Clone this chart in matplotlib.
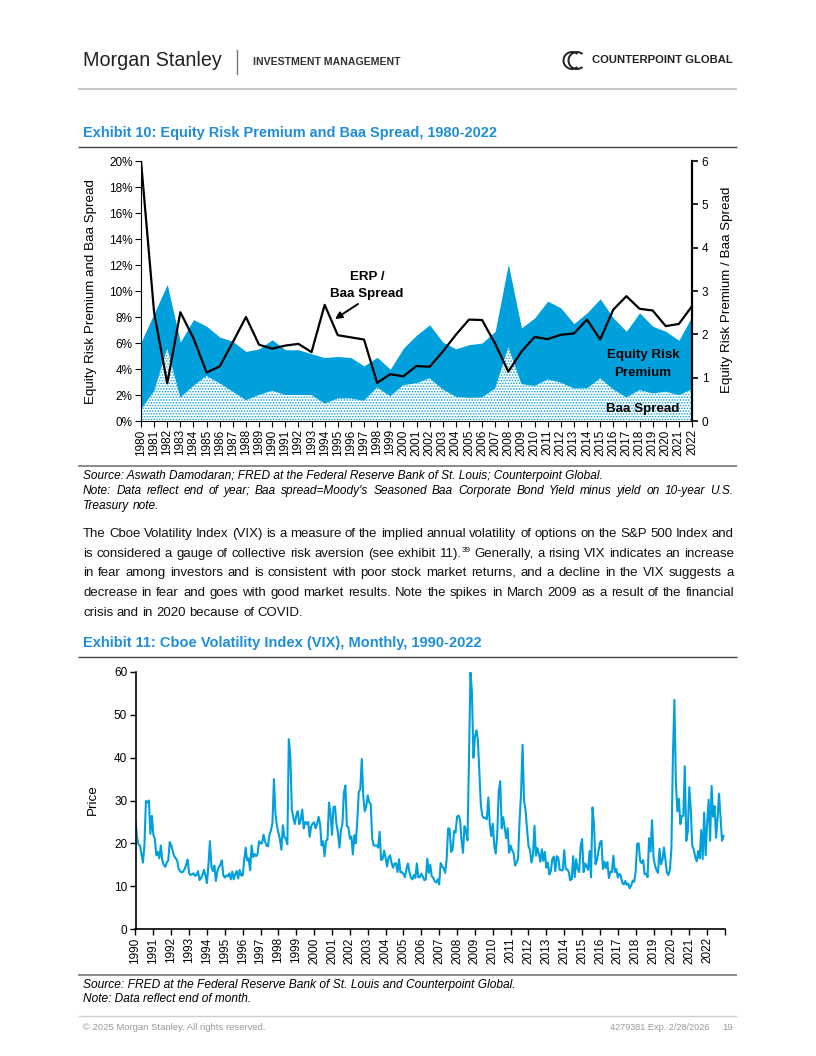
import numpy as np
import matplotlib
matplotlib.use("Agg")
import matplotlib.pyplot as plt
from matplotlib.patches import Arc
from matplotlib.ticker import FuncFormatter

W, H = 816, 1056
BLUE = "#00A0DC"
TITLE_BLUE = "#1E8FD6"
NARROW = ["Liberation Sans Narrow", "Liberation Sans", "DejaVu Sans"]

# ---- Exhibit 10 data ----
years = list(range(1980, 2023))
baa_spread = [0.87, 2.3, 5.56, 1.8, 2.7, 3.46, 2.9, 2.25, 1.6, 2.0,
              2.33, 2.0, 2.0, 2.0, 1.34, 1.73, 1.73, 1.55, 2.58, 1.9,
              2.76, 2.9, 3.28, 2.43, 1.86, 1.78, 1.81, 2.5, 5.68, 2.84,
              2.69, 3.2, 2.95, 2.5, 2.5, 3.28, 2.43, 1.81, 2.38, 2.12,
              2.25, 1.99, 2.43]
erp = [5.2, 5.97, 4.94, 4.27, 5.1, 3.83, 3.56, 3.87, 3.75, 3.55,
       3.92, 3.48, 3.48, 3.17, 3.54, 3.23, 3.15, 2.69, 2.32, 2.08,
       2.84, 3.7, 4.12, 3.64, 3.69, 4.09, 4.19, 4.4, 6.39, 4.32,
       5.24, 6.02, 5.75, 4.99, 5.82, 6.12, 5.5, 5.09, 5.94, 5.17,
       4.65, 4.21, 5.63]
erp_baa_ratio = [6.0, 2.5, 0.87, 2.51, 1.91, 1.12, 1.26, 1.82, 2.4, 1.76,
                 1.67, 1.74, 1.78, 1.59, 2.68, 1.98, 1.93, 1.88, 0.88, 1.08,
                 1.03, 1.27, 1.25, 1.6, 1.99, 2.34, 2.33, 1.78, 1.14, 1.6,
                 1.94, 1.89, 1.99, 2.02, 2.34, 1.88, 2.57, 2.88, 2.59, 2.55,
                 2.19, 2.24, 2.65]

# ---- Exhibit 11 data: VIX, end of month, Jan 1990 - Dec 2022 ----
vix_first_year = 1990
vix = [
    25.4, 21.5, 19.7, 19.5, 17.5, 15.5, 19.5, 29.9, 29.5, 30.0, 22.2, 26.4,  # 1990
    22.0, 21.0, 17.2, 18.0, 16.5, 19.5, 16.0, 15.0, 14.5, 15.5, 16.0, 20.3,  # 1991
    19.5, 18.2, 17.0, 16.5, 16.0, 14.0, 13.5, 13.2, 13.4, 14.0, 15.0, 16.2,  # 1992
    13.0, 12.6, 12.8, 13.0, 12.4, 12.6, 13.5, 11.4, 11.9, 12.6, 13.8, 12.5,  # 1993
    10.7, 15.0, 20.5, 14.5, 13.5, 14.8, 11.2, 13.5, 14.5, 15.0, 16.0, 12.5,  # 1994
    12.0, 12.5, 12.3, 13.0, 11.6, 13.4, 11.6, 12.8, 13.5, 11.8, 13.8, 12.5,  # 1995
    12.5, 16.0, 19.0, 16.0, 16.5, 13.7, 19.5, 16.8, 17.5, 17.0, 17.5, 20.5,  # 1996
    20.0, 20.0, 22.0, 20.5, 19.5, 19.3, 22.0, 23.0, 24.8, 35.0, 27.0, 24.0,  # 1997
    22.5, 21.0, 18.5, 24.2, 21.5, 21.0, 19.8, 44.3, 40.5, 28.0, 26.0, 24.5,  # 1998
    26.5, 27.5, 24.5, 25.5, 27.9, 23.5, 25.0, 24.5, 25.0, 21.5, 24.0, 24.6,  # 1999
    24.9, 23.5, 24.5, 26.2, 24.5, 19.5, 20.5, 17.0, 20.5, 21.0, 29.5, 26.9,  # 2000
    22.0, 28.5, 28.6, 24.5, 22.5, 19.0, 23.0, 24.5, 31.9, 33.5, 24.0, 23.8,  # 2001
    21.1, 21.6, 17.4, 21.9, 20.0, 25.4, 32.0, 32.6, 39.7, 31.1, 27.5, 28.6,  # 2002
    31.2, 29.6, 29.2, 21.2, 19.5, 19.5, 19.5, 19.0, 22.7, 16.1, 16.3, 18.3,  # 2003
    16.6, 14.6, 16.7, 17.2, 15.5, 14.3, 15.3, 15.3, 13.3, 16.3, 13.2, 13.3,  # 2004
    12.8, 12.1, 14.0, 15.3, 13.3, 12.0, 11.6, 12.6, 11.9, 15.3, 12.1, 12.1,  # 2005
    12.9, 12.3, 11.4, 11.6, 16.4, 13.1, 15.0, 12.3, 12.0, 11.1, 10.9, 11.6,  # 2006
    10.4, 15.4, 14.6, 14.2, 13.1, 16.2, 23.5, 23.4, 18.0, 18.5, 22.9, 22.5,  # 2007
    26.2, 26.5, 25.6, 20.8, 17.8, 24.0, 22.9, 20.7, 39.4, 59.9, 55.3, 40.0,  # 2008
    44.8, 46.4, 44.1, 36.5, 28.9, 26.4, 25.9, 26.0, 25.6, 30.7, 24.5, 21.7,  # 2009
    24.6, 19.5, 17.6, 22.1, 32.1, 34.5, 23.5, 26.1, 23.7, 21.2, 23.5, 17.8,  # 2010
    19.5, 18.4, 17.7, 14.8, 15.5, 16.5, 25.3, 31.6, 43.0, 30.0, 27.8, 23.4,  # 2011
    19.4, 18.4, 15.5, 17.2, 24.1, 17.1, 18.9, 17.5, 15.7, 18.6, 15.9, 18.0,  # 2012
    14.3, 15.5, 12.7, 13.5, 16.3, 16.9, 13.5, 17.0, 16.6, 13.8, 13.7, 13.7,  # 2013
    18.4, 14.0, 13.9, 13.4, 11.4, 11.6, 17.0, 12.1, 16.3, 14.0, 13.3, 19.2,  # 2014
    21.0, 13.3, 15.3, 14.6, 13.8, 18.2, 12.1, 28.4, 24.5, 15.1, 16.1, 18.2,  # 2015
    20.2, 20.6, 14.0, 15.7, 14.2, 15.6, 11.9, 13.4, 13.3, 17.1, 13.3, 14.0,  # 2016
    12.0, 12.9, 12.4, 10.8, 10.4, 11.2, 10.3, 10.6, 9.5, 10.2, 11.3, 11.0,   # 2017
    13.5, 19.9, 20.0, 15.9, 15.4, 16.1, 12.8, 12.9, 12.1, 21.2, 18.1, 25.4,  # 2018
    16.6, 14.8, 13.7, 13.1, 18.7, 15.1, 16.1, 19.0, 16.2, 13.2, 12.6, 13.8,  # 2019
    18.8, 40.1, 53.5, 34.2, 27.5, 30.4, 24.5, 26.4, 26.4, 38.0, 20.6, 22.8,  # 2020
    33.1, 28.0, 19.4, 18.6, 16.8, 15.8, 18.2, 16.5, 23.1, 16.3, 27.2, 17.2,  # 2021
    24.8, 30.2, 20.6, 33.4, 26.2, 28.7, 21.3, 25.9, 31.6, 25.9, 20.6, 21.7,  # 2022
]

plt.rcParams["font.family"] = ["Liberation Sans", "DejaVu Sans"]
plt.rcParams["hatch.color"] = BLUE
plt.rcParams["hatch.linewidth"] = 0.7

fig = plt.figure(figsize=(W / 100, H / 100), dpi=100)


def px_axes(left, top, right, bottom):
    return fig.add_axes([left / W, 1 - bottom / H, (right - left) / W, (bottom - top) / H])


# ---------------- Exhibit 10 ----------------
ax1 = px_axes(141, 161, 692, 421)
x = np.array(years)
total = np.add(baa_spread, erp) / 100
ax1.fill_between(x, 0, total, color=BLUE, lw=0)
ax1.fill_between(x, 0, np.array(baa_spread) / 100, facecolor="white",
                 edgecolor=BLUE, hatch="......", lw=0)
ax1.set_xlim(1980, 2022)
ax1.set_ylim(0, 0.20)
ax1.set_yticks(np.arange(0, 0.201, 0.02))
ax1.yaxis.set_major_formatter(FuncFormatter(lambda v, p: f"{v * 100:.0f}%"))
ax1.set_xticks(years)
ax1.set_xticklabels([str(y) for y in years], rotation=90)
ax1.tick_params(labelsize=8.5, length=4, width=0.8, pad=2)
for s in ("top", "right"):
    ax1.spines[s].set_visible(False)
ax1.set_facecolor("none")

ax1r = ax1.twinx()
ax1r.plot(x, erp_baa_ratio, color="black", lw=1.6)
ax1r.set_ylim(0, 6)
ax1r.set_yticks(range(0, 7))
ax1r.tick_params(labelsize=8.5, length=4, width=1.2, pad=3)
for s in ("top", "left", "bottom"):
    ax1r.spines[s].set_visible(False)
ax1r.spines["right"].set_linewidth(1.6)

# ---------------- Exhibit 11 ----------------
ax2 = px_axes(135.5, 672, 725, 929)
t = vix_first_year + np.arange(len(vix)) / 12
ax2.plot(t, vix, color=BLUE, lw=1.5)
ax2.set_xlim(1990, 2023)
ax2.set_ylim(0, 60)
ax2.set_yticks(range(0, 61, 10))
vix_ticks = list(range(1990, 2024))
ax2.set_xticks(vix_ticks)
ax2.set_xticklabels([str(y) if y < 2023 else "" for y in vix_ticks], rotation=90)
ax2.tick_params(labelsize=8.5, length=4, width=1.0, pad=2)
for s in ("top", "right"):
    ax2.spines[s].set_visible(False)
ax2.spines["bottom"].set_linewidth(1.2)
ax2.spines["left"].set_linewidth(1.2)

# ---------------- page layer (pixel coords) ----------------
page = fig.add_axes([0, 0, 1, 1], zorder=10)
page.set_xlim(0, W)
page.set_ylim(H, 0)
page.axis("off")
page.patch.set_alpha(0)
rend = fig.canvas.get_renderer()


def hline(y, color, lw, x0=78, x1=737):
    page.plot([x0, x1], [y, y], color=color, lw=lw, solid_capstyle="butt")


def fit_text(x0, y, s, width, size, **kw):
    txt = page.text(x0, y, s, fontsize=size, va="center", ha="left", **kw)
    w = txt.get_window_extent(rend).width
    txt.set_fontsize(size * width / w)
    return txt


def justify(y, line, size, x0=83, x1=734, last=False, **kw):
    # y is the visual centre of the line; words sit on a common baseline
    base_y = y + 0.36 * size * 100 / 72
    parts = []
    for word in line.split(" "):
        if "^" in word:
            base, sup = word.split("^")
            a = page.text(0, base_y, base, fontsize=size, va="baseline", **kw)
            b = page.text(0, base_y - 4.5, sup, fontsize=size * 0.62, va="baseline", **kw)
            parts.append([a, b])
        else:
            parts.append([page.text(0, base_y, word, fontsize=size, va="baseline", **kw)])
    widths = [[p.get_window_extent(rend).width for p in grp] for grp in parts]
    total = sum(sum(w) for w in widths)
    gap = size * 0.38 if last else (x1 - x0 - total) / (len(parts) - 1)
    cx = x0
    for grp, ws in zip(parts, widths):
        for p, w in zip(grp, ws):
            p.set_x(cx)
            cx += w
        cx += gap


# header
fit_text(83, 61, "Morgan Stanley", 139, 16, family=NARROW, color="#222222")
page.plot([237, 237], [50, 74], color="#777777", lw=1)
fit_text(253, 62, "INVESTMENT MANAGEMENT", 147, 7, family=NARROW,
         weight="bold", color="#333333")
page.add_patch(Arc((572, 60.5), 17, 17, theta1=50, theta2=310, color="#222222", lw=1.4))
page.add_patch(Arc((577, 60.5), 17, 17, theta1=50, theta2=310, color="#222222", lw=1.4))
fit_text(592, 60, "COUNTERPOINT GLOBAL", 141, 8, family=NARROW,
         weight="bold", color="#222222")
hline(89, "#C6C6C6", 1.5)

# exhibit 10 texts
fit_text(83, 133, "Exhibit 10: Equity Risk Premium and Baa Spread, 1980-2022", 416, 11,
         family=NARROW, weight="bold", color=TITLE_BLUE)
hline(147, "#444444", 1.0)
page.text(91, 292, "Equity Risk Premium and Baa Spread", rotation=90, fontsize=9.6,
          ha="center", va="center")
page.text(727, 290, "Equity Risk Premium / Baa Spread", rotation=90, fontsize=9.6,
          ha="center", va="center")
page.text(367, 277, "ERP /", fontsize=9.6, weight="bold", ha="center", va="center")
page.text(367, 294, "Baa Spread", fontsize=9.6, weight="bold", ha="center", va="center")
page.annotate("", xy=(335, 319), xytext=(358, 304),
              arrowprops=dict(arrowstyle="-|>", color="black", lw=1.4,
                              mutation_scale=10, shrinkA=0, shrinkB=0))
page.text(643, 355, "Equity Risk", fontsize=9.6, weight="bold", ha="center", va="center")
page.text(643, 373, "Premium", fontsize=9.6, weight="bold", ha="center", va="center")
page.text(643, 409, "Baa Spread", fontsize=9.6, weight="bold", ha="center", va="center")

hline(465.5, "#8A8A8A", 1.4)
fit_text(83, 476, "Source: Aswath Damodaran; FRED at the Federal Reserve Bank of St. Louis; "
         "Counterpoint Global.", 521, 8.3, family=NARROW, style="italic")
justify(490, "Note: Data reflect end of year; Baa spread=Moody's Seasoned Baa Corporate "
        "Bond Yield minus yield on 10-year U.S.", 8.6, x1=733, family=NARROW, style="italic")
justify(505, "Treasury note.", 8.6, last=True, family=NARROW, style="italic")

# body paragraph
para = [
    "The Cboe Volatility Index (VIX) is a measure of the implied annual volatility of options on the S&P 500 Index and",
    "is considered a gauge of collective risk aversion (see exhibit 11).^39 Generally, a rising VIX indicates an increase",
    "in fear among investors and is consistent with poor stock market returns, and a decline in the VIX suggests a",
    "decrease in fear and goes with good market results. Note the spikes in March 2009 as a result of the financial",
    "crisis and in 2020 because of COVID.",
]
for i, line in enumerate(para):
    justify(532 + i * 19.8, line, 9.5, last=(i == len(para) - 1), family=NARROW,
            color="#111111")

# exhibit 11 texts
fit_text(83, 643, "Exhibit 11: Cboe Volatility Index (VIX), Monthly, 1990-2022", 401, 11,
         family=NARROW, weight="bold", color=TITLE_BLUE)
hline(657, "#444444", 1.0)
page.text(93, 800, "Price", rotation=90, fontsize=9.6, ha="center", va="center")
hline(975, "#8A8A8A", 1.4)
fit_text(83, 985, "Source: FRED at the Federal Reserve Bank of St. Louis and Counterpoint Global.",
         433, 8.3, family=NARROW, style="italic")
fit_text(83, 999.5, "Note: Data reflect end of month.", 168, 8.3, family=NARROW, style="italic")

# footer
hline(1016, "#CFCFCF", 1.0)
fit_text(83, 1027, "\u00a9 2025 Morgan Stanley. All rights reserved.", 182, 6.5,
         family=NARROW, color="#9A9A9A")
fit_text(610, 1027, "4279381 Exp. 2/28/2026", 100, 6.5, family=NARROW, color="#9A9A9A")
page.text(733, 1027, "19", fontsize=6.8, ha="right", va="center", color="#9A9A9A")

fig.savefig("out.png", dpi=100, facecolor="white")
